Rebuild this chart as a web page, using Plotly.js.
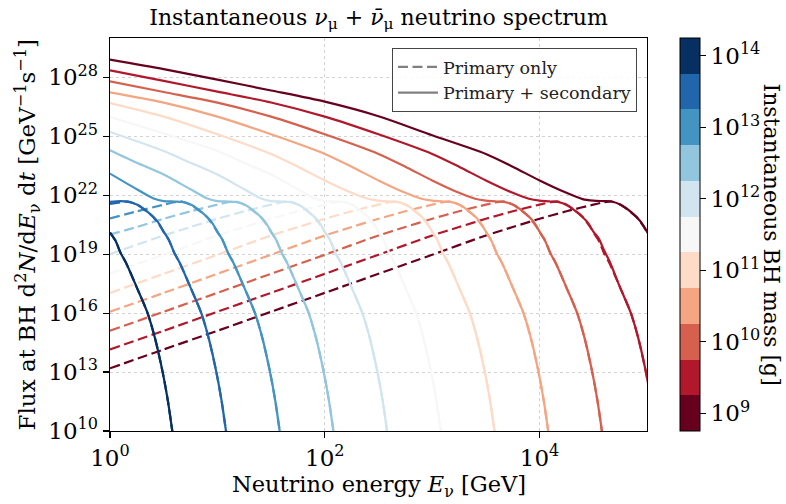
<!DOCTYPE html>
<html>
<head>
<meta charset="utf-8">
<script src="https://cdn.plot.ly/plotly-3.0.1.min.js"></script>
<style>html,body{margin:0;padding:0;background:#fff;}#plot{width:786px;height:504px;}</style>
</head>
<body>
<div id="plot"></div>
<script>
// ---- DATA (log10 values) ----
// BH masses, log10(M / g)
const massExp = [9, 9.5, 10, 10.5, 11, 11.5, 12, 12.5, 13, 13.5, 14];
const curveColors = ['#67001f','#b2182b','#d6604d','#f4a582','#fddbc7','#f7f7f7','#d1e5f0','#92c5de','#4393c3','#2166ac','#053061'];

// Primary + secondary (solid): log10(E/GeV) and log10(flux)
const solidLogE = [
  [0, 0.5, 1, 1.5, 2, 2.5, 3, 3.5, 3.75, 4, 4.25, 4.4, 4.5, 4.6, 4.67, 4.76, 4.85, 4.94, 5.0, 5.05],
  [0, 0.5, 1, 1.5, 2, 2.5, 3, 3.25, 3.5, 3.75, 3.9, 4, 4.1, 4.17, 4.26, 4.35, 4.44, 4.5, 4.55, 4.6, 4.65, 4.75, 4.85, 4.92, 4.99, 5.04],
  [0, 0.5, 1, 1.5, 2, 2.5, 2.75, 3, 3.25, 3.4, 3.5, 3.6, 3.67, 3.76, 3.85, 3.94, 4.0, 4.05, 4.1, 4.15, 4.25, 4.35, 4.42, 4.49, 4.54, 4.58, 4.62],
  [0, 0.5, 1, 1.5, 2, 2.25, 2.5, 2.75, 2.9, 3, 3.1, 3.17, 3.26, 3.35, 3.44, 3.5, 3.55, 3.6, 3.65, 3.75, 3.85, 3.92, 3.99, 4.04, 4.08, 4.12],
  [0, 0.5, 1, 1.5, 1.75, 2, 2.25, 2.4, 2.5, 2.6, 2.67, 2.76, 2.85, 2.94, 3.0, 3.05, 3.1, 3.15, 3.25, 3.35, 3.42, 3.49, 3.54, 3.58, 3.62],
  [0, 0.5, 1, 1.25, 1.5, 1.75, 1.9, 2, 2.1, 2.17, 2.26, 2.35, 2.44, 2.5, 2.55, 2.6, 2.65, 2.75, 2.85, 2.92, 2.99, 3.04, 3.08, 3.12],
  [0, 0.5, 0.75, 1.0, 1.25, 1.4, 1.5, 1.6, 1.67, 1.76, 1.85, 1.94, 2.0, 2.05, 2.1, 2.15, 2.25, 2.35, 2.42, 2.49, 2.54, 2.58, 2.62],
  [0, 0.25, 0.5, 0.75, 0.9, 1.0, 1.1, 1.17, 1.26, 1.35, 1.44, 1.5, 1.55, 1.6, 1.65, 1.75, 1.85, 1.92, 1.99, 2.04, 2.08, 2.12],
  [0, 0.25, 0.4, 0.5, 0.6, 0.67, 0.76, 0.85, 0.94, 1.0, 1.05, 1.1, 1.15, 1.25, 1.35, 1.42, 1.49, 1.54, 1.58, 1.62],
  [0, 0.1, 0.17, 0.26, 0.35, 0.44, 0.5, 0.55, 0.6, 0.65, 0.75, 0.85, 0.92, 0.99, 1.04, 1.08, 1.12],
  [0, 0.05, 0.1, 0.15, 0.25, 0.35, 0.42, 0.49, 0.54, 0.58, 0.62]
];
const solidLogF = [
  [28.90, 28.42, 27.88, 27.33, 26.76, 26.02, 25.05, 24.1, 23.45, 22.75, 22.12, 21.8, 21.72, 21.7, 21.68, 21.5, 21.15, 20.66, 20.15, 19.7],
  [28.35, 27.82, 27.27, 26.72, 26.0, 25.1, 24.1, 23.45, 22.75, 22.12, 21.82, 21.72, 21.68, 21.66, 21.48, 21.12, 20.66, 20.15, 19.8, 19.2, 18.65, 17.3, 16.0, 14.7, 13.0, 11.5],
  [27.79, 27.25, 26.71, 26.0, 25.1, 24.1, 23.45, 22.75, 22.12, 21.82, 21.72, 21.68, 21.66, 21.5, 21.15, 20.68, 20.15, 19.7, 19.05, 18.55, 17.3, 16.0, 14.7, 13.0, 11.5, 10.0, 8.5],
  [27.23, 26.71, 26.0, 25.1, 24.1, 23.45, 22.75, 22.12, 21.82, 21.72, 21.68, 21.66, 21.5, 21.15, 20.68, 20.15, 19.7, 19.05, 18.55, 17.3, 16.0, 14.7, 13.0, 11.5, 10.0, 8.5],
  [26.69, 26.0, 25.1, 24.1, 23.45, 22.75, 22.12, 21.82, 21.72, 21.68, 21.66, 21.5, 21.15, 20.68, 20.15, 19.7, 19.05, 18.55, 17.3, 16.0, 14.7, 13.0, 11.5, 10.0, 8.5],
  [25.98, 25.15, 24.25, 23.65, 23.05, 22.3, 21.85, 21.7, 21.68, 21.66, 21.5, 21.15, 20.68, 20.15, 19.7, 19.05, 18.55, 17.3, 16.0, 14.7, 13.0, 11.5, 10.0, 8.5],
  [25.22, 24.25, 23.65, 23.05, 22.3, 21.85, 21.7, 21.68, 21.66, 21.5, 21.15, 20.68, 20.15, 19.7, 19.05, 18.55, 17.3, 16.0, 14.7, 13.0, 11.5, 10.0, 8.5],
  [24.29, 23.65, 23.05, 22.3, 21.85, 21.7, 21.68, 21.66, 21.5, 21.15, 20.68, 20.15, 19.7, 19.05, 18.55, 17.3, 16.0, 14.7, 13.0, 11.5, 10.0, 8.5],
  [23.10, 22.3, 21.85, 21.7, 21.68, 21.66, 21.5, 21.15, 20.68, 20.15, 19.7, 19.05, 18.55, 17.3, 16.0, 14.7, 13.0, 11.5, 10.0, 8.5],
  [21.66, 21.70, 21.66, 21.5, 21.15, 20.68, 20.15, 19.7, 19.05, 18.55, 17.3, 16.0, 14.7, 13.0, 11.5, 10.0, 8.5],
  [20.1, 19.7, 19.05, 18.55, 17.3, 16.0, 14.7, 13.0, 11.5, 10.0, 8.5]
];

// Primary only (dashed)
const dashLogE = [
  [0, 0.5, 1, 1.5, 2, 2.5, 3, 3.5, 3.75, 4, 4.25, 4.5, 4.6, 4.67, 4.75, 4.83, 4.9, 4.97, 5.0, 5.05],
  [0, 0.5, 1, 1.5, 2, 2.5, 3, 3.25, 3.5, 3.75, 4, 4.1, 4.17, 4.25, 4.33, 4.4, 4.47, 4.5, 4.55, 4.6, 4.65, 4.75, 4.85, 4.92, 4.99, 5.04],
  [0, 0.5, 1, 1.5, 2, 2.5, 2.75, 3, 3.25, 3.5, 3.6, 3.67, 3.75, 3.83, 3.9, 3.97, 4.0, 4.05, 4.1, 4.15, 4.25, 4.35, 4.42, 4.49, 4.54, 4.58, 4.62],
  [0, 0.5, 1, 1.5, 2, 2.25, 2.5, 2.75, 3, 3.1, 3.17, 3.25, 3.33, 3.4, 3.47, 3.5, 3.55, 3.6, 3.65, 3.75, 3.85, 3.92, 3.99, 4.04, 4.08, 4.12],
  [0, 0.5, 1, 1.5, 1.75, 2, 2.25, 2.5, 2.6, 2.67, 2.75, 2.83, 2.9, 2.97, 3.0, 3.05, 3.1, 3.15, 3.25, 3.35, 3.42, 3.49, 3.54, 3.58, 3.62],
  [0, 0.5, 1, 1.25, 1.5, 1.75, 2, 2.1, 2.17, 2.25, 2.33, 2.4, 2.47, 2.5, 2.55, 2.6, 2.65, 2.75, 2.85, 2.92, 2.99, 3.04, 3.08, 3.12],
  [0, 0.5, 0.75, 1, 1.25, 1.5, 1.6, 1.67, 1.75, 1.83, 1.9, 1.97, 2.0, 2.05, 2.1, 2.15, 2.25, 2.35, 2.42, 2.49, 2.54, 2.58, 2.62],
  [0, 0.25, 0.5, 0.75, 1, 1.1, 1.17, 1.25, 1.33, 1.4, 1.47, 1.5, 1.55, 1.6, 1.65, 1.75, 1.85, 1.92, 1.99, 2.04, 2.08, 2.12],
  [0, 0.25, 0.5, 0.6, 0.67, 0.75, 0.83, 0.9, 0.97, 1.0, 1.05, 1.1, 1.15, 1.25, 1.35, 1.42, 1.49, 1.54, 1.58, 1.62],
  [0, 0.1, 0.17, 0.25, 0.33, 0.4, 0.47, 0.5, 0.55, 0.6, 0.65, 0.75, 0.85, 0.92, 0.99, 1.04, 1.08, 1.12],
  [0, 0.05, 0.1, 0.15, 0.25, 0.35, 0.42, 0.49, 0.54, 0.58, 0.62]
];
const dashLogF = [
  [13.19, 14.15, 15.10, 16.07, 17.03, 18.0, 18.97, 19.95, 20.38, 20.8, 21.18, 21.52, 21.64, 21.68, 21.52, 21.22, 20.9, 20.4, 20.12, 19.7],
  [14.15, 15.10, 16.07, 17.03, 18.0, 18.97, 19.95, 20.38, 20.8, 21.18, 21.52, 21.64, 21.68, 21.52, 21.22, 20.9, 20.4, 20.12, 19.7, 19.05, 18.55, 17.3, 16.0, 14.7, 13.0, 11.5],
  [15.10, 16.07, 17.03, 18.0, 18.97, 19.95, 20.38, 20.8, 21.18, 21.52, 21.64, 21.68, 21.52, 21.22, 20.9, 20.4, 20.12, 19.7, 19.05, 18.55, 17.3, 16.0, 14.7, 13.0, 11.5, 10.0, 8.5],
  [16.07, 17.03, 18.0, 18.97, 19.95, 20.38, 20.8, 21.18, 21.52, 21.64, 21.68, 21.52, 21.22, 20.9, 20.4, 20.12, 19.7, 19.05, 18.55, 17.3, 16.0, 14.7, 13.0, 11.5, 10.0, 8.5],
  [17.03, 18.0, 18.97, 19.95, 20.38, 20.8, 21.18, 21.52, 21.64, 21.68, 21.52, 21.22, 20.9, 20.4, 20.12, 19.7, 19.05, 18.55, 17.3, 16.0, 14.7, 13.0, 11.5, 10.0, 8.5],
  [18.02, 18.97, 19.95, 20.38, 20.8, 21.18, 21.52, 21.64, 21.68, 21.52, 21.22, 20.9, 20.4, 20.12, 19.7, 19.05, 18.55, 17.3, 16.0, 14.7, 13.0, 11.5, 10.0, 8.5],
  [19.0, 19.95, 20.38, 20.8, 21.18, 21.52, 21.64, 21.68, 21.52, 21.22, 20.9, 20.4, 20.12, 19.7, 19.05, 18.55, 17.3, 16.0, 14.7, 13.0, 11.5, 10.0, 8.5],
  [20.0, 20.38, 20.8, 21.18, 21.52, 21.64, 21.68, 21.52, 21.22, 20.9, 20.4, 20.12, 19.7, 19.05, 18.55, 17.3, 16.0, 14.7, 13.0, 11.5, 10.0, 8.5],
  [20.82, 21.18, 21.52, 21.64, 21.68, 21.52, 21.22, 20.9, 20.4, 20.12, 19.7, 19.05, 18.55, 17.3, 16.0, 14.7, 13.0, 11.5, 10.0, 8.5],
  [21.55, 21.64, 21.68, 21.52, 21.22, 20.9, 20.4, 20.12, 19.7, 19.05, 18.55, 17.3, 16.0, 14.7, 13.0, 11.5, 10.0, 8.5],
  [20.1, 19.7, 19.05, 18.55, 17.3, 16.0, 14.7, 13.0, 11.5, 10.0, 8.5]
];

const xTickExp = [0, 2, 4];
const yTickExp = [10, 13, 16, 19, 22, 25, 28];
const cbarTickExp = [9, 10, 11, 12, 13, 14];
const xRangeExp = [0, 5];
const yRangeExp = [10, 30];

// ---- FIGURE ----
const FONT = 'DejaVu Serif';
const pow10 = v => Math.pow(10, v);
const sup = e => '10<sup>' + e + '</sup>';
const DASH = '10px,4.5px';

const traces = [];
for (let i = 0; i < massExp.length; i++) {
  traces.push({
    x: solidLogE[i].map(pow10), y: solidLogF[i].map(pow10),
    mode: 'lines', type: 'scatter', showlegend: false, hoverinfo: 'skip',
    line: {color: curveColors[i], width: 2.2, shape: 'spline', smoothing: 0.7}
  });
  traces.push({
    x: dashLogE[i].map(pow10), y: dashLogF[i].map(pow10),
    mode: 'lines', type: 'scatter', showlegend: false, hoverinfo: 'skip',
    line: {color: curveColors[i], width: 2.2, dash: DASH, shape: 'spline', smoothing: 0.7}
  });
}
// legend entries
traces.push({x: [null], y: [null], mode: 'lines', name: 'Primary only',
  line: {color: '#808080', width: 2.2, dash: DASH}});
traces.push({x: [null], y: [null], mode: 'lines', name: 'Primary + secondary',
  line: {color: '#808080', width: 2.2}});

// discrete colour bar (11 bands)
const n = curveColors.length;
const cmin = massExp[0] - 0.25, cmax = massExp[n - 1] + 0.25;
const cscale = [];
for (let k = 0; k < n; k++) {
  cscale.push([k / n, curveColors[k]]);
  cscale.push([(k + 1) / n, curveColors[k]]);
}
traces.push({
  x: [1e-3], y: [1e-3], mode: 'markers', type: 'scatter', showlegend: false, hoverinfo: 'skip',
  marker: {color: [massExp[0]], colorscale: cscale, cmin: cmin, cmax: cmax, showscale: true, size: 1,
    colorbar: {
      thickness: 20, thicknessmode: 'pixels', len: 1, lenmode: 'fraction',
      x: (680 - 110) / 537, xanchor: 'left', xpad: 0, y: 0.5, yanchor: 'middle', ypad: 0,
      outlinecolor: '#000', outlinewidth: 1,
      tickmode: 'array', tickvals: cbarTickExp, ticktext: cbarTickExp.map(sup),
      ticks: 'outside', ticklen: 6, tickwidth: 1.2, tickcolor: '#000',
      tickfont: {family: FONT, size: 23, color: '#000'}
    }}
});

const axisCommon = {
  type: 'log', showline: true, linecolor: '#000', linewidth: 1.3, mirror: true,
  ticks: 'outside', ticklen: 6, tickwidth: 1.2, tickcolor: '#000',
  showgrid: true, gridcolor: '#d3d3d3', gridwidth: 1, griddash: 'dot',
  zeroline: false, tickfont: {family: FONT, size: 23, color: '#000'}, tickmode: 'array'
};

const layout = {
  width: 786, height: 504,
  margin: {l: 110, r: 139, t: 38, b: 73},
  paper_bgcolor: '#fff', plot_bgcolor: '#fff',
  font: {family: FONT, color: '#000'},
  title: {text: 'Instantaneous <i>ν</i><sub>μ</sub> + <i>ν̄</i><sub>μ</sub> neutrino spectrum',
    font: {family: FONT, size: 22, color: '#000'}, xref: 'paper', x: 0.5, xanchor: 'center',
    yref: 'container', y: 1 - 17 / 504, yanchor: 'middle'},
  xaxis: Object.assign({}, axisCommon, {range: xRangeExp, tickvals: xTickExp.map(pow10), ticktext: xTickExp.map(sup)}),
  yaxis: Object.assign({}, axisCommon, {range: yRangeExp, tickvals: yTickExp.map(pow10), ticktext: yTickExp.map(sup)}),
  showlegend: true,
  legend: {x: (637 - 110) / 537, xanchor: 'right', y: (431 - 48) / 393, yanchor: 'top',
    bgcolor: 'rgba(255,255,255,0.85)', bordercolor: '#444', borderwidth: 1,
    font: {family: FONT, size: 17.5, color: '#222'}, itemwidth: 40, tracegroupgap: 0},
  annotations: [
    {text: 'Neutrino energy <i>E</i><sub>ν</sub> [GeV]', xref: 'paper', yref: 'paper',
      x: 0.5, y: (431 - 486) / 393, xanchor: 'center', yanchor: 'middle', showarrow: false,
      font: {family: FONT, size: 22.5, color: '#000'}},
    {text: 'Flux at BH d<sup>2</sup><i>N</i>/d<i>E</i><sub>ν</sub> d<i>t</i> [GeV<sup>−1</sup>s<sup>−1</sup>]',
      xref: 'paper', yref: 'paper', x: (27 - 110) / 537, y: 0.5, xanchor: 'center', yanchor: 'middle',
      textangle: -90, showarrow: false, font: {family: FONT, size: 23, color: '#000'}},
    {text: 'Instantaneous BH mass [g]', xref: 'paper', yref: 'paper',
      x: (771 - 110) / 537, y: 0.5, xanchor: 'center', yanchor: 'middle',
      textangle: 90, showarrow: false, font: {family: FONT, size: 22, color: '#000'}}
  ]
};

Plotly.newPlot('plot', traces, layout, {displayModeBar: false, staticPlot: true});
</script>
</body>
</html>
